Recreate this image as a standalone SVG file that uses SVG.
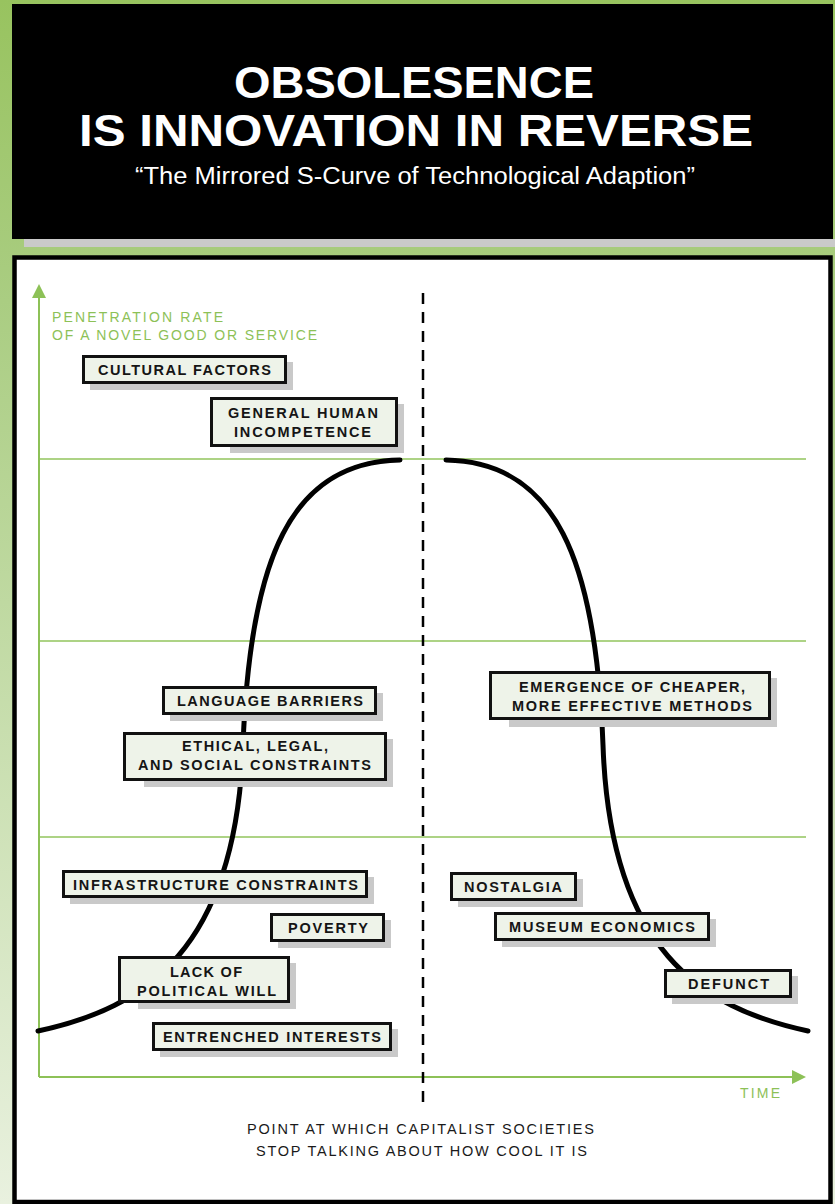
<svg xmlns="http://www.w3.org/2000/svg" width="835" height="1204" viewBox="0 0 835 1204">
<defs>
<linearGradient id="bg" x1="0" y1="0" x2="0" y2="1">
<stop offset="0" stop-color="#98c35f"/>
<stop offset="0.25" stop-color="#aacd82"/>
<stop offset="1" stop-color="#e9f1df"/>
</linearGradient>
<marker id="arr" viewBox="0 0 10 10" refX="0" refY="5" markerWidth="7.5" markerHeight="7" markerUnits="strokeWidth" orient="auto">
<path d="M0,0 L10,5 L0,10 Z" fill="#8dc157"/>
</marker>
</defs>
<style>
.title{font-family:"Liberation Sans",Arial,sans-serif;font-weight:bold;fill:#fff;font-size:45px}
.sub{font-family:"Liberation Sans",Arial,sans-serif;fill:#fff;font-size:23px}
.shadow{fill:#c9c9c9}
.box{fill:#eef3e9;stroke:#111;stroke-width:3}
.lbl{font-family:"Liberation Sans",Arial,sans-serif;font-weight:bold;font-size:14.5px;fill:#151515}
.ax{font-family:"Liberation Sans",Arial,sans-serif;font-size:14px;fill:#8dc157}
.note{font-family:"Liberation Sans",Arial,sans-serif;font-size:14.5px;fill:#1a1a1a}
.grid{stroke:#92c45d;stroke-width:1.5;fill:none}
.axis{stroke:#8dc157;stroke-width:2;fill:none}
.curve{stroke:#000;stroke-width:5;fill:none;stroke-linecap:round}
</style>
<rect x="0" y="0" width="835" height="1204" fill="url(#bg)"/>
<g id="header">
<rect x="24" y="239" width="811" height="8" fill="#cacaca"/>
<rect x="12" y="4" width="821" height="235" fill="#000"/>
<text class="title" x="234" y="98" textLength="360" lengthAdjust="spacingAndGlyphs">OBSOLESENCE</text>
<text class="title" x="79" y="146" textLength="674" lengthAdjust="spacingAndGlyphs">IS INNOVATION IN REVERSE</text>
<text class="sub" x="135" y="184" textLength="560" lengthAdjust="spacingAndGlyphs">“The Mirrored S-Curve of Technological Adaption”</text>
</g>
<g id="chart-frame">
<rect x="14.5" y="257.5" width="816" height="944.5" fill="#fff" stroke="#000" stroke-width="4.5"/>
</g>
<g id="connectors">
<line class="grid" x1="39" y1="459" x2="806" y2="459"/>
<line class="grid" x1="39" y1="641" x2="806" y2="641"/>
<line class="grid" x1="39" y1="837" x2="806" y2="837"/>
<line class="axis" x1="39" y1="1077" x2="39" y2="298" marker-end="url(#arr)"/>
<line class="axis" x1="39" y1="1077" x2="792" y2="1077" marker-end="url(#arr)"/>
<line x1="423" y1="293" x2="423" y2="1105" stroke="#000" stroke-width="2.5" stroke-dasharray="11 8"/>
<path class="curve" d="M38,1031 C145,1008 236,950 243,745 C250,560 290,462 400,460"/>
<path class="curve" transform="translate(846,0) scale(-1,1)" d="M38,1031 C145,1008 236,950 243,745 C250,560 290,462 400,460"/>
</g>
<g id="axis-labels">
<text class="ax" x="52" y="322" textLength="171" lengthAdjust="spacing">PENETRATION RATE</text>
<text class="ax" x="52" y="340" textLength="265" lengthAdjust="spacing">OF A NOVEL GOOD OR SERVICE</text>
<text class="ax" x="740" y="1098" textLength="40" lengthAdjust="spacing">TIME</text>
</g>
<g id="n-cultural">
<rect class="shadow" x="90" y="362" width="203" height="28"/>
<rect class="box" x="83.5" y="356.5" width="202" height="26"/>
<text class="lbl" x="98" y="375" textLength="173" lengthAdjust="spacing">CULTURAL FACTORS</text>
</g>
<g id="n-general">
<rect class="shadow" x="230" y="404" width="174" height="49"/>
<rect class="box" x="211.5" y="398.5" width="185" height="47"/>
<text class="lbl" x="228" y="418" textLength="150" lengthAdjust="spacing">GENERAL HUMAN</text>
<text class="lbl" x="234" y="437" textLength="137" lengthAdjust="spacing">INCOMPETENCE</text>
</g>
<g id="n-language">
<rect class="shadow" x="170" y="693" width="213" height="28"/>
<rect class="box" x="163.5" y="687.5" width="212" height="26"/>
<text class="lbl" x="177" y="706" textLength="186" lengthAdjust="spacing">LANGUAGE BARRIERS</text>
</g>
<g id="n-ethical">
<rect class="shadow" x="144" y="739" width="249" height="48"/>
<rect class="box" x="124.5" y="733.5" width="261" height="46"/>
<text class="lbl" x="182" y="751" textLength="146" lengthAdjust="spacing">ETHICAL, LEGAL,</text>
<text class="lbl" x="138" y="770" textLength="233" lengthAdjust="spacing">AND SOCIAL CONSTRAINTS</text>
</g>
<g id="n-infrastructure">
<rect class="shadow" x="70" y="877" width="304" height="27"/>
<rect class="box" x="63.5" y="871.5" width="303" height="25"/>
<text class="lbl" x="73" y="890" textLength="285" lengthAdjust="spacing">INFRASTRUCTURE CONSTRAINTS</text>
</g>
<g id="n-poverty">
<rect class="shadow" x="278" y="920" width="113" height="28"/>
<rect class="box" x="271.5" y="914.5" width="112" height="26"/>
<text class="lbl" x="288" y="933" textLength="80" lengthAdjust="spacing">POVERTY</text>
</g>
<g id="n-political">
<rect class="shadow" x="138" y="963" width="158" height="46"/>
<rect class="box" x="119.5" y="957.5" width="169" height="44"/>
<text class="lbl" x="170" y="977" textLength="72" lengthAdjust="spacing">LACK OF</text>
<text class="lbl" x="137" y="996" textLength="139" lengthAdjust="spacing">POLITICAL WILL</text>
</g>
<g id="n-entrenched">
<rect class="shadow" x="160" y="1029" width="238" height="28"/>
<rect class="box" x="153.5" y="1023.5" width="237" height="26"/>
<text class="lbl" x="163" y="1042" textLength="218" lengthAdjust="spacing">ENTRENCHED INTERESTS</text>
</g>
<g id="n-emergence">
<rect class="shadow" x="509" y="678" width="268" height="49"/>
<rect class="box" x="490.5" y="672.5" width="279" height="46"/>
<text class="lbl" x="519" y="692" textLength="226" lengthAdjust="spacing">EMERGENCE OF CHEAPER,</text>
<text class="lbl" x="512" y="711" textLength="240" lengthAdjust="spacing">MORE EFFECTIVE METHODS</text>
</g>
<g id="n-nostalgia">
<rect class="shadow" x="458" y="879" width="125" height="28"/>
<rect class="box" x="451.5" y="873.5" width="124" height="26"/>
<text class="lbl" x="464" y="892" textLength="98" lengthAdjust="spacing">NOSTALGIA</text>
</g>
<g id="n-museum">
<rect class="shadow" x="502" y="919" width="214" height="28"/>
<rect class="box" x="495.5" y="913.5" width="213" height="26"/>
<text class="lbl" x="509" y="932" textLength="186" lengthAdjust="spacing">MUSEUM ECONOMICS</text>
</g>
<g id="n-defunct">
<rect class="shadow" x="672" y="976" width="126" height="28"/>
<rect class="box" x="665.5" y="970.5" width="125" height="26"/>
<text class="lbl" x="688" y="989" textLength="81" lengthAdjust="spacing">DEFUNCT</text>
</g>
<g id="n-note">
<text class="note" x="247" y="1134" textLength="347" lengthAdjust="spacing">POINT AT WHICH CAPITALIST SOCIETIES</text>
<text class="note" x="256" y="1156" textLength="331" lengthAdjust="spacing">STOP TALKING ABOUT HOW COOL IT IS</text>
</g>
</svg>
